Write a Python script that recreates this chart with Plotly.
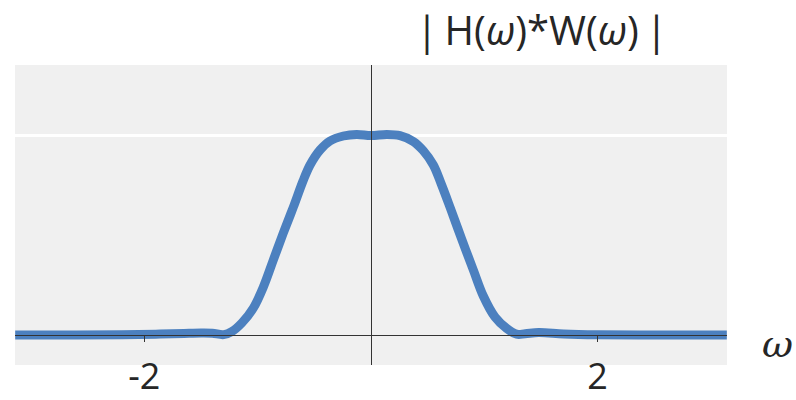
import math
import plotly.graph_objects as go

# |H(w)*W(w)|: windowed ideal low-pass response, sampled values
omega = [-3.14, -2.6, -2.2, -1.9, -1.65, -1.5, -1.4, -1.3, -1.229, -1.14,
         -1.038, -0.95, -0.862, -0.774, -0.685, -0.60, -0.538, -0.45, -0.362,
         -0.244, -0.126, 0.0, 0.14, 0.256, 0.373, 0.461, 0.55, 0.62, 0.70,
         0.80, 0.903, 0.991, 1.094, 1.197, 1.285, 1.36, 1.48, 1.7, 2.0, 2.6, 3.14]
magnitude = [0.0, 0.0, 0.001, 0.004, 0.008, 0.01, 0.009, 0.002, 0.017, 0.06,
             0.135, 0.24, 0.375, 0.51, 0.64, 0.77, 0.85, 0.925, 0.97,
             0.995, 1.003, 0.997, 1.003, 0.997, 0.968, 0.922, 0.85, 0.755, 0.635,
             0.48, 0.325, 0.195, 0.09, 0.033, 0.004, 0.006, 0.012, 0.005, 0.001, 0.0, 0.0]

tick_vals = [-2, 2]
tick_text = ["-2", "2"]
title_text = "|\u2009H(<i>ω</i>)*W(<i>ω</i>)\u2009|"
x_label = "<i>ω</i>"

x_range = [-math.pi, math.pi]
y_range = [-0.15, 1.35]
font_family = "Open Sans"
text_color = "#262626"
axis_color = "#333333"

fig = go.Figure()
fig.add_trace(go.Scatter(
    x=omega, y=magnitude, mode="lines",
    line=dict(color="#4c80bf", width=9, shape="spline", smoothing=1.0),
    hoverinfo="skip", showlegend=False,
))
# empty trace so the zero-positioned axis (x2) gets drawn
fig.add_trace(go.Scatter(
    x=[None], y=[None], xaxis="x2", yaxis="y", mode="lines",
    hoverinfo="skip", showlegend=False,
))

zero_frac = (0 - y_range[0]) / (y_range[1] - y_range[0])
mid_frac = (0 - x_range[0]) / (x_range[1] - x_range[0])

fig.update_layout(
    width=796, height=400,
    margin=dict(l=15, r=69, t=65, b=35),
    paper_bgcolor="white",
    plot_bgcolor="#f0f0f0",
    font=dict(family=font_family, color=text_color, size=36),
    xaxis=dict(
        range=x_range, tickvals=tick_vals, ticktext=tick_text,
        showgrid=False, zeroline=False, showline=False, ticks="",
        tickfont=dict(size=36, color=text_color), automargin=False,
        ticklabelstandoff=-13,
    ),
    xaxis2=dict(
        overlaying="x", anchor="free", position=zero_frac,
        range=x_range, tickvals=tick_vals, showticklabels=False,
        showgrid=False, zeroline=False, showline=True,
        linecolor=axis_color, linewidth=1.2,
        ticks="outside", ticklen=6, tickwidth=1.2, tickcolor=axis_color,
        layer="above traces", automargin=False,
    ),
    yaxis=dict(
        range=y_range, tickvals=[1], showticklabels=False,
        showgrid=True, gridcolor="white", gridwidth=2.5,
        zeroline=False, showline=True, linecolor=axis_color, linewidth=1.2,
        anchor="free", position=mid_frac, ticks="",
        layer="above traces", automargin=False,
    ),
    annotations=[
        dict(text=title_text, xref="paper", yref="paper",
             x=(541 - 15) / 712, y=1.0, yshift=6, xanchor="center", yanchor="bottom",
             showarrow=False, font=dict(size=40, color=text_color)),
        dict(text=x_label, xref="paper", yref="paper",
             x=1.0, y=zero_frac, xshift=33, yshift=-9, xanchor="left", yanchor="middle",
             showarrow=False, font=dict(size=38, color=text_color, family="DejaVu Serif")),
    ],
)

fig.write_html("out.html")
